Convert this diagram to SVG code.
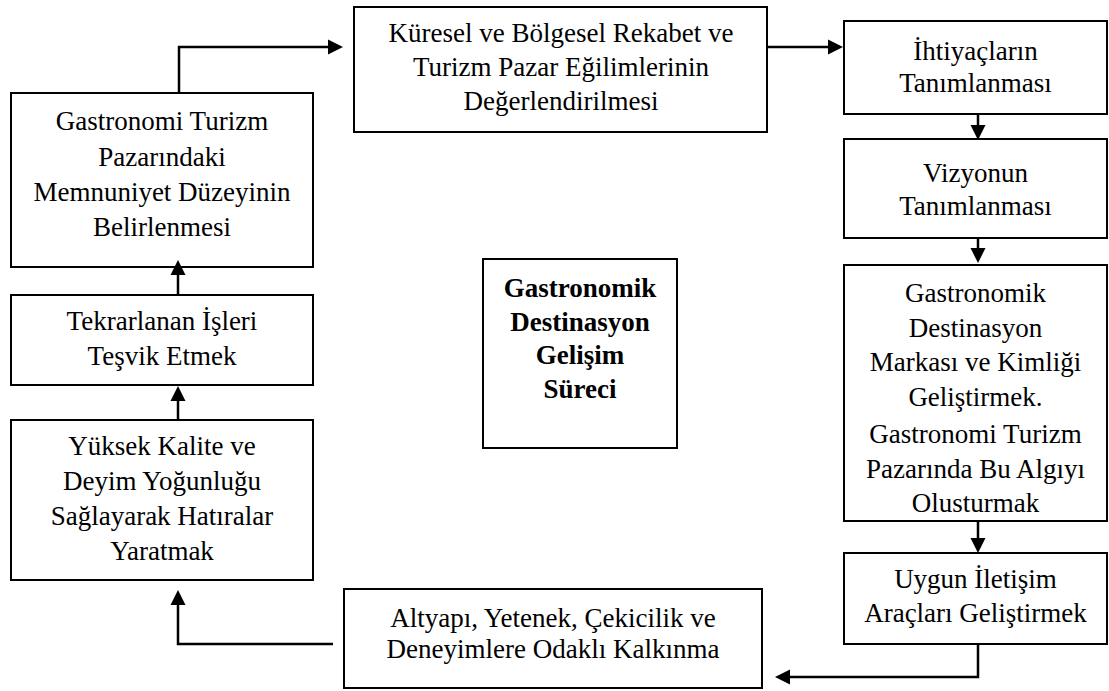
<svg xmlns="http://www.w3.org/2000/svg" width="1109" height="691" viewBox="0 0 1109 691">
<style>
.box{fill:#fff;stroke:#000;stroke-width:2}
.ln{fill:none;stroke:#000;stroke-width:2.5}
.hd{fill:#000}
</style>
<rect width="1109" height="691" fill="#fff"/>
<g id="node-1"><rect class="box" x="11" y="93" width="302" height="174"/>
<text style="font-family:Times New Roman,Liberation Serif,serif;font-size:27px" text-anchor="middle" x="162" y="130">Gastronomi Turizm</text>
<text style="font-family:Times New Roman,Liberation Serif,serif;font-size:27px" text-anchor="middle" x="162" y="166">Pazarındaki</text>
<text style="font-family:Times New Roman,Liberation Serif,serif;font-size:27px" text-anchor="middle" x="162" y="201">Memnuniyet Düzeyinin</text>
<text style="font-family:Times New Roman,Liberation Serif,serif;font-size:27px" text-anchor="middle" x="162" y="236">Belirlenmesi</text></g>
<g id="node-2"><rect class="box" x="354" y="7" width="413" height="125"/>
<text style="font-family:Times New Roman,Liberation Serif,serif;font-size:27px" text-anchor="middle" x="561" y="42">Küresel ve Bölgesel Rekabet ve</text>
<text style="font-family:Times New Roman,Liberation Serif,serif;font-size:27px" text-anchor="middle" x="561" y="76">Turizm Pazar Eğilimlerinin</text>
<text style="font-family:Times New Roman,Liberation Serif,serif;font-size:27px" text-anchor="middle" x="561" y="110">Değerlendirilmesi</text></g>
<g id="node-3"><rect class="box" x="844" y="21" width="263" height="93"/>
<text style="font-family:Times New Roman,Liberation Serif,serif;font-size:27px" text-anchor="middle" x="975.5" y="60">İhtiyaçların</text>
<text style="font-family:Times New Roman,Liberation Serif,serif;font-size:27px" text-anchor="middle" x="975.5" y="92">Tanımlanması</text></g>
<g id="node-4"><rect class="box" x="844" y="139" width="263" height="99"/>
<text style="font-family:Times New Roman,Liberation Serif,serif;font-size:27px" text-anchor="middle" x="975.5" y="182">Vizyonun</text>
<text style="font-family:Times New Roman,Liberation Serif,serif;font-size:27px" text-anchor="middle" x="975.5" y="215">Tanımlanması</text></g>
<g id="node-5"><rect class="box" x="844" y="265" width="263" height="256"/>
<text style="font-family:Times New Roman,Liberation Serif,serif;font-size:27px" text-anchor="middle" x="975.5" y="302">Gastronomik</text>
<text style="font-family:Times New Roman,Liberation Serif,serif;font-size:27px" text-anchor="middle" x="975.5" y="337">Destinasyon</text>
<text style="font-family:Times New Roman,Liberation Serif,serif;font-size:27px" text-anchor="middle" x="975.5" y="371">Markası ve Kimliği</text>
<text style="font-family:Times New Roman,Liberation Serif,serif;font-size:27px" text-anchor="middle" x="975.5" y="406">Geliştirmek.</text>
<text style="font-family:Times New Roman,Liberation Serif,serif;font-size:27px" text-anchor="middle" x="975.5" y="443">Gastronomi Turizm</text>
<text style="font-family:Times New Roman,Liberation Serif,serif;font-size:27px" text-anchor="middle" x="975.5" y="478">Pazarında Bu Algıyı</text>
<text style="font-family:Times New Roman,Liberation Serif,serif;font-size:27px" text-anchor="middle" x="975.5" y="512">Olusturmak</text></g>
<g id="node-6"><rect class="box" x="844" y="553" width="263" height="91"/>
<text style="font-family:Times New Roman,Liberation Serif,serif;font-size:27px" text-anchor="middle" x="975.5" y="588">Uygun İletişim</text>
<text style="font-family:Times New Roman,Liberation Serif,serif;font-size:27px" text-anchor="middle" x="975.5" y="622">Araçları Geliştirmek</text></g>
<g id="node-7"><rect class="box" x="344" y="589" width="418" height="99"/>
<text style="font-family:Times New Roman,Liberation Serif,serif;font-size:27px" text-anchor="middle" x="553" y="627">Altyapı, Yetenek, Çekicilik ve</text>
<text style="font-family:Times New Roman,Liberation Serif,serif;font-size:27px" text-anchor="middle" x="553" y="658">Deneyimlere Odaklı Kalkınma</text></g>
<g id="node-8"><rect class="box" x="11" y="420" width="302" height="160"/>
<text style="font-family:Times New Roman,Liberation Serif,serif;font-size:27px" text-anchor="middle" x="162" y="455">Yüksek Kalite ve</text>
<text style="font-family:Times New Roman,Liberation Serif,serif;font-size:27px" text-anchor="middle" x="162" y="490">Deyim Yoğunluğu</text>
<text style="font-family:Times New Roman,Liberation Serif,serif;font-size:27px" text-anchor="middle" x="162" y="525">Sağlayarak Hatıralar</text>
<text style="font-family:Times New Roman,Liberation Serif,serif;font-size:27px" text-anchor="middle" x="162" y="560">Yaratmak</text></g>
<g id="node-9"><rect class="box" x="11" y="295" width="302" height="90"/>
<text style="font-family:Times New Roman,Liberation Serif,serif;font-size:27px" text-anchor="middle" x="162" y="330">Tekrarlanan İşleri</text>
<text style="font-family:Times New Roman,Liberation Serif,serif;font-size:27px" text-anchor="middle" x="162" y="365">Teşvik Etmek</text></g>
<g id="node-10"><rect class="box" x="483" y="259" width="194" height="189"/>
<text style="font-family:Times New Roman,Liberation Serif,serif;font-size:27px;font-weight:bold" text-anchor="middle" x="580" y="297">Gastronomik</text>
<text style="font-family:Times New Roman,Liberation Serif,serif;font-size:27px;font-weight:bold" text-anchor="middle" x="580" y="331">Destinasyon</text>
<text style="font-family:Times New Roman,Liberation Serif,serif;font-size:27px;font-weight:bold" text-anchor="middle" x="580" y="364">Gelişim</text>
<text style="font-family:Times New Roman,Liberation Serif,serif;font-size:27px;font-weight:bold" text-anchor="middle" x="580" y="398">Süreci</text></g>
<g id="connectors">
<path class="ln" d="M179,93 V47 H330"/>
<polygon class="hd" points="343,47 328,39.5 328,54.5"/>
<path class="ln" d="M767,47 H830"/>
<polygon class="hd" points="843,47 828,39.5 828,54.5"/>
<path class="ln" d="M978,114 V127"/>
<polygon class="hd" points="978,140 970.5,125 985.5,125"/>
<path class="ln" d="M978,238 V250"/>
<polygon class="hd" points="978,263 970.5,248 985.5,248"/>
<path class="ln" d="M978,521 V540"/>
<polygon class="hd" points="978,553 970.5,538 985.5,538"/>
<path class="ln" d="M978,644 V677 H788"/>
<polygon class="hd" points="775,677 790,669.5 790,684.5"/>
<path class="ln" d="M333,644 H178 V603"/>
<polygon class="hd" points="178,590 170.5,605 185.5,605"/>
<path class="ln" d="M178,420 V399"/>
<polygon class="hd" points="178,386 170.5,401 185.5,401"/>
<path class="ln" d="M178,295 V273"/>
<polygon class="hd" points="178,260 170.5,275 185.5,275"/>
</g>
</svg>
